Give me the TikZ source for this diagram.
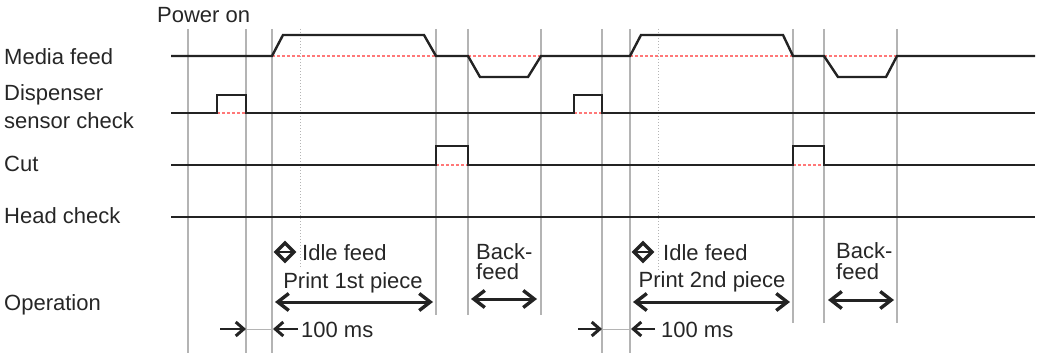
\documentclass[tikz,border=0pt]{standalone}
\usepackage{fontspec}
\setmainfont{Liberation Sans}
\usetikzlibrary{arrows.meta}
\definecolor{sigdark}{RGB}{35,35,35}
\definecolor{gridgray}{RGB}{180,180,180}
\definecolor{zerored}{RGB}{255,120,120}

\tikzset{
  signal/.style={sigdark,line width=2.4pt,line join=miter},
  marker/.style={gridgray,line width=1.6pt},
  zeroline/.style={zerored,line width=1.8pt,dash pattern=on 3pt off 2pt},
  lbl/.style={anchor=base west,inner sep=0pt,font=\fontsize{22}{26}\selectfont,text=black!85},
  oparrow/.style={sigdark,line width=3pt,
    {Straight Barb[length=11pt,width=17pt,line width=3.4pt]}-{Straight Barb[length=11pt,width=17pt,line width=3.4pt]}},
  gaparrow/.style={sigdark,line width=2.4pt,-{Straight Barb[length=8pt,width=14pt,line width=3pt]}}
}

\begin{document}
\begin{tikzpicture}[x=1pt,y=-1pt]
  \useasboundingbox (0,0) rectangle (1038,353);
  % time markers
  \foreach \x in {188,246,272,602,630} \draw[marker](\x,29)--(\x,353);
  \foreach \x in {436,468,541} \draw[marker](\x,29)--(\x,315);
  \foreach \x in {793,824,897} \draw[marker](\x,29)--(\x,323);
  \foreach \x/\e in {300/268,658/270} \draw[gridgray,line width=1pt,dotted](\x,29)--(\x,\e);

  % zero levels under the pulses
  \draw[zeroline](272,56)--(436,56) (468,56)--(541,56) (630,56)--(793,56) (824,56)--(897,56);
  \draw[zeroline](217,113)--(246,113) (574,113)--(602,113);
  \draw[zeroline](436,165)--(468,165) (793,165)--(824,165);

  % signals
  \draw[signal](171,56)--(272,56)--(283,35)--(424,35)--(436,56)--(468,56)--(480,77)--(528,77)
    --(541,56)--(630,56)--(641,35)--(783,35)--(793,56)--(824,56)--(838,77)--(886,77)
    --(897,56)--(1035,56);
  \draw[signal](171,113)--(217,113)--(217,95)--(246,95)--(246,113)--(574,113)--(574,95)
    --(602,95)--(602,113)--(1035,113);
  \draw[signal](171,165)--(436,165)--(436,146)--(468,146)--(468,165)--(793,165)--(793,146)
    --(824,146)--(824,165)--(1035,165);
  \draw[signal](171,217)--(1035,217);

  % row labels
  \node[lbl](poweron) at (157,23) {Power on};
  \node[lbl](mediafeed) at (4,65) {Media feed};
  \node[lbl](disp) at (4,100) {Dispenser};
  \node[lbl](sensor) at (4,128) {sensor check};
  \node[lbl](cut) at (4,171) {Cut};
  \node[lbl](headcheck) at (4,223) {Head check};
  \node[lbl](operation) at (4,310) {Operation};

  % idle feed marks
  \foreach \c in {285,643} {
    \draw[sigdark,line width=3.2pt,line join=miter](\c,243)--(\c+9,252)--(\c,261)--(\c-9,252)--cycle;
    \draw[sigdark,line width=2.4pt](\c-9,252)--(\c+9,252);
  }

  % operation texts
  \node[lbl](idle1) at (302,260) {Idle feed};
  \node[lbl,anchor=base](print1) at (353,288) {Print 1st piece};
  \node[lbl](back1) at (476,259) {Back-};
  \node[lbl](bfeed1) at (476,279) {feed};
  \node[lbl](ms1) at (301,337) {100 ms};
  \node[lbl](idle2) at (663,260) {Idle feed};
  \node[lbl,anchor=base](print2) at (712,287) {Print 2nd piece};
  \node[lbl](back2) at (836,258) {Back-};
  \node[lbl](bfeed2) at (836,279) {feed};
  \node[lbl](ms2) at (661,337) {100 ms};

  % operation arrows
  \coordinate (pr1a) at (275,302);
  \coordinate (pr1b) at (433,302);
  \coordinate (bf1a) at (471,299);
  \coordinate (bf1b) at (537,299);
  \coordinate (pr2a) at (633,302);
  \coordinate (pr2b) at (790,302);
  \coordinate (bf2a) at (828,300);
  \coordinate (bf2b) at (894,300);
  \draw[oparrow](pr1a)--(pr1b);
  \draw[oparrow](bf1a)--(bf1b);
  \draw[oparrow](pr2a)--(pr2b);
  \draw[oparrow](bf2a)--(bf2b);

  % 100 ms gaps
  \coordinate (g1a) at (220,329);
  \coordinate (g1b) at (246,329);
  \coordinate (g1c) at (273,329);
  \coordinate (g1d) at (298,329);
  \coordinate (g2a) at (578,329);
  \coordinate (g2b) at (602,329);
  \coordinate (g2c) at (631,329);
  \coordinate (g2d) at (655,329);
  \draw[gridgray,line width=1pt](g1b)--(g1c) (g2b)--(g2c);
  \draw[gaparrow](g1a)--(g1b);
  \draw[gaparrow](g1d)--(g1c);
  \draw[gaparrow](g2a)--(g2b);
  \draw[gaparrow](g2d)--(g2c);
\end{tikzpicture}
\end{document}
